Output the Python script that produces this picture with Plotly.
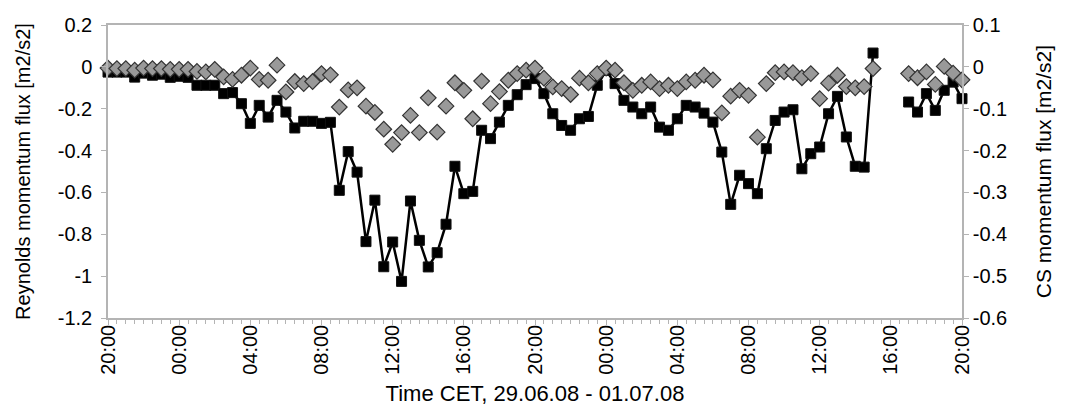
import pandas as pd
import plotly.graph_objects as go

# 30-minute time steps, 29.06.08 20:00 -> 01.07.08 20:00
times = pd.date_range("2008-06-29 20:00", "2008-07-01 20:00", freq="30min")

reynolds = [
    -0.025, -0.025, -0.025, -0.049, -0.030, -0.040, -0.035, -0.050, -0.045, -0.050,
    -0.088, -0.088, -0.088, -0.128, -0.123, -0.176, -0.270, -0.184, -0.240, -0.160,
    -0.216, -0.292, -0.260, -0.260, -0.270, -0.265, -0.590, -0.405, -0.503, -0.835,
    -0.637, -0.955, -0.837, -1.025, -0.641, -0.829, -0.956, -0.888, -0.752, -0.475,
    -0.606, -0.595, -0.303, -0.343, -0.264, -0.184, -0.133, -0.085, -0.056, -0.128,
    -0.224, -0.280, -0.303, -0.248, -0.237, -0.088, -0.017, -0.080, -0.160, -0.192,
    -0.224, -0.192, -0.288, -0.303, -0.248, -0.184, -0.192, -0.221, -0.264, -0.407,
    -0.657, -0.518, -0.558, -0.606, -0.391, -0.256, -0.216, -0.205, -0.487, -0.415,
    -0.383, -0.224, -0.141, -0.335, -0.475, -0.479, 0.066, None, None, None,
    -0.168, -0.216, -0.128, -0.208, -0.112, -0.073, -0.152,
]

cs = [
    -0.003, -0.004, -0.004, -0.008, -0.003, -0.004, -0.004, -0.006, -0.006, -0.006,
    -0.011, -0.012, -0.006, -0.024, -0.030, -0.020, -0.003, -0.030, -0.032, 0.004,
    -0.060, -0.035, -0.040, -0.035, -0.016, -0.019, -0.096, -0.055, -0.050, -0.094,
    -0.109, -0.149, -0.185, -0.157, -0.116, -0.157, -0.074, -0.156, -0.094, -0.038,
    -0.056, -0.124, -0.034, -0.088, -0.059, -0.032, -0.016, -0.008, -0.003, -0.027,
    -0.048, -0.052, -0.066, -0.027, -0.038, -0.016, -0.003, -0.008, -0.038, -0.056,
    -0.044, -0.036, -0.052, -0.044, -0.052, -0.036, -0.032, -0.020, -0.031, -0.110,
    -0.070, -0.056, -0.068, -0.168, -0.040, -0.014, -0.012, -0.014, -0.026, -0.016,
    -0.076, -0.039, -0.020, -0.047, -0.050, -0.047, -0.004, None, None, None,
    -0.016, -0.026, -0.012, -0.042, 0.001, -0.015, -0.031,
]

left_ticks = [0.2, 0, -0.2, -0.4, -0.6, -0.8, -1, -1.2]
left_labels = ["0.2", "0", "-0.2", "-0.4", "-0.6", "-0.8", "-1", "-1.2"]
right_ticks = [0.1, 0, -0.1, -0.2, -0.3, -0.4, -0.5, -0.6]
right_labels = ["0.1", "0", "-0.1", "-0.2", "-0.3", "-0.4", "-0.5", "-0.6"]

FONT = "Liberation Sans, Arial, sans-serif"
AX = "#b4b4b4"

fig = go.Figure()
fig.add_trace(go.Scatter(
    x=times, y=reynolds, mode="lines+markers", yaxis="y",
    line=dict(color="black", width=2.5), connectgaps=False,
    marker=dict(symbol="square", size=10, color="black",
                line=dict(color="#111111", width=1)),
    cliponaxis=False, showlegend=False,
))
fig.add_trace(go.Scatter(
    x=times, y=cs, mode="markers", yaxis="y2",
    marker=dict(symbol="diamond", size=12, color="#999999",
                line=dict(color="#333333", width=1.2)),
    cliponaxis=False, showlegend=False,
))

fig.update_layout(
    width=1065, height=418,
    margin=dict(l=108, r=103, t=25, b=100),
    paper_bgcolor="white", plot_bgcolor="white",
    font=dict(family=FONT, size=20, color="black"),
    xaxis=dict(
        range=[times[0], times[-1]],
        tickmode="linear", tick0=times[0], dtick=4 * 3600 * 1000,
        tickformat="%H:%M", tickangle=-90,
        showline=True, linecolor=AX, linewidth=1.5, mirror=True,
        ticks="outside", ticklen=5, tickcolor=AX, tickwidth=1,
        ticklabelstandoff=-8,
        minor=dict(dtick=30 * 60 * 1000, tick0=times[0], ticks="outside",
                   ticklen=4, tickcolor=AX, tickwidth=1, showgrid=False),
        showgrid=False, zeroline=False,
        tickfont=dict(size=20),
        title=dict(text="Time CET, 29.06.08 - 01.07.08", font=dict(size=22), standoff=12),
    ),
    yaxis=dict(
        range=[-1.2, 0.2], tickvals=left_ticks, ticktext=left_labels,
        showline=True, linecolor=AX, linewidth=1.5,
        ticks="outside", ticklen=5, tickcolor=AX,
        ticklabelstandoff=5,
        showgrid=False, zeroline=False,
        tickfont=dict(size=20),
        title=dict(text="Reynolds momentum flux [m2/s2]", font=dict(size=20), standoff=22),
    ),
    yaxis2=dict(
        range=[-0.6, 0.1], tickvals=right_ticks, ticktext=right_labels,
        overlaying="y", side="right",
        showline=True, linecolor=AX, linewidth=1.5,
        ticks="outside", ticklen=5, tickcolor=AX,
        showgrid=False, zeroline=False,
        tickfont=dict(size=20),
        title=dict(text="CS momentum flux [m2/s2]", font=dict(size=21), standoff=30),
    ),
)

fig.write_html("out.html")
